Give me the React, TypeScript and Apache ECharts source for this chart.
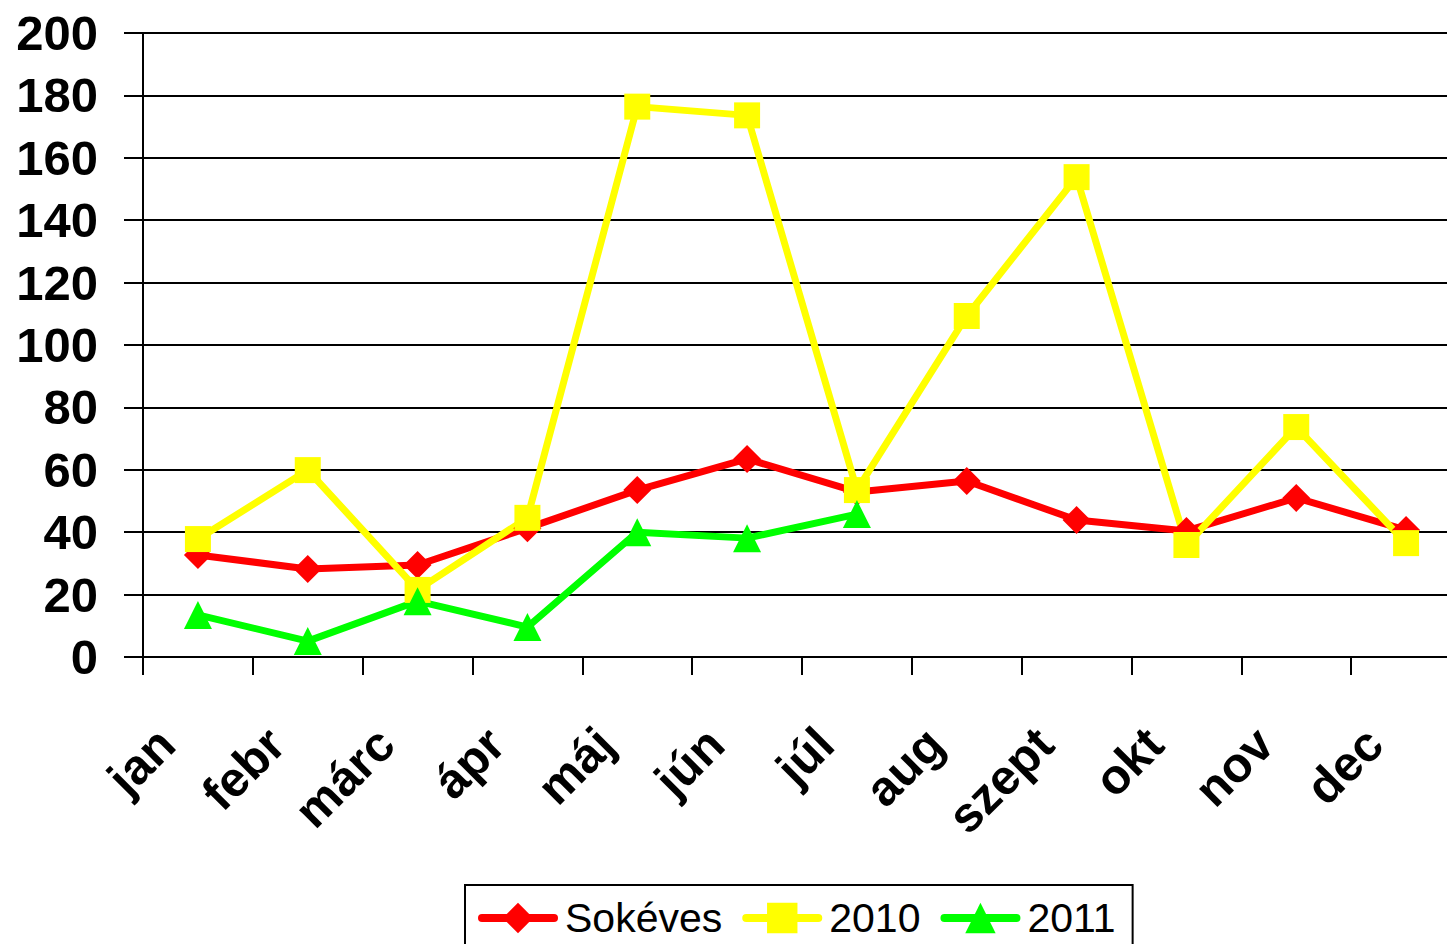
import React, { useEffect, useRef } from "react";
import * as echarts from "echarts";

const months = ["jan", "febr", "márc", "ápr", "máj", "jún", "júl", "aug", "szept", "okt", "nov", "dec"];
const sokeves = [32.7, 28.2, 29.5, 41.3, 53.5, 63.5, 52.9, 56.4, 43.9, 40.4, 51.0, 40.7];
const y2010 = [37.8, 59.9, 21.5, 44.6, 176.4, 173.6, 53.5, 109.3, 153.8, 35.9, 73.7, 36.5];
const y2011 = [13.5, 5.1, 17.9, 9.6, 40.0, 38.1, 45.8, null, null, null, null, null];

export default function App() {
  const ref = useRef<HTMLDivElement>(null);
  useEffect(() => {
    if (!ref.current) return;
    const chart = echarts.init(ref.current, null, { renderer: "svg" });
    const font = "'Liberation Sans', Arial, sans-serif";
    chart.setOption({
      animation: false,
      backgroundColor: "#ffffff",
      grid: { left: 143, top: 33, right: 19, bottom: 333, containLabel: false, outerBoundsMode: "none" },
      legend: {
        left: 465,
        top: 885,
        padding: [10, 17, 8, 13],
        borderColor: "#000",
        borderWidth: 2,
        itemWidth: 72,
        itemHeight: 38,
        itemGap: 20,
        lineStyle: { width: 8, cap: "round" },
        textStyle: { fontFamily: font, fontSize: 41, color: "#000", padding: [0, 0, 0, 6], lineHeight: 46 },
        data: ["Sokéves", "2010", "2011"],
      },
      xAxis: {
        type: "category",
        data: months,
        boundaryGap: true,
        axisLine: { show: true, lineStyle: { color: "#000", width: 2 } },
        axisTick: { show: true, inside: false, length: 18, interval: 0, lineStyle: { color: "#000", width: 2 } },
        axisLabel: {
          rotate: 45,
          margin: 47,
          interval: 0,
          fontFamily: font,
          fontWeight: "bold",
          fontSize: 49,
          color: "#000",
          padding: [0, 45, 0, 0],
        },
        splitLine: { show: false },
      },
      yAxis: {
        type: "value",
        min: 0,
        max: 200,
        interval: 20,
        axisLine: { show: true, lineStyle: { color: "#000", width: 2 } },
        axisTick: { show: true, length: 19, lineStyle: { color: "#000", width: 2 } },
        axisLabel: { margin: 45, fontFamily: font, fontWeight: "bold", fontSize: 49, color: "#000" },
        splitLine: { show: true, lineStyle: { color: "#000", width: 2 } },
      },
      series: [
        {
          name: "Sokéves",
          type: "line",
          data: sokeves,
          symbol: "diamond",
          symbolSize: 28,
          lineStyle: { color: "#ff0000", width: 7 },
          itemStyle: { color: "#ff0000" },
        },
        {
          name: "2010",
          type: "line",
          data: y2010,
          symbol: "rect",
          symbolSize: 26,
          lineStyle: { color: "#ffff00", width: 7 },
          itemStyle: { color: "#ffff00" },
        },
        {
          name: "2011",
          type: "line",
          data: y2011,
          symbol: "triangle",
          symbolSize: 28,
          lineStyle: { color: "#00ff00", width: 7 },
          itemStyle: { color: "#00ff00" },
        },
      ],
    });
    return () => chart.dispose();
  }, []);
  return (
    <div style={{ position: "fixed", left: 0, top: 0, width: 1447, height: 944, overflow: "hidden", background: "#fff" }}>
      <div ref={ref} style={{ width: 1480, height: 990 }} />
    </div>
  );
}
